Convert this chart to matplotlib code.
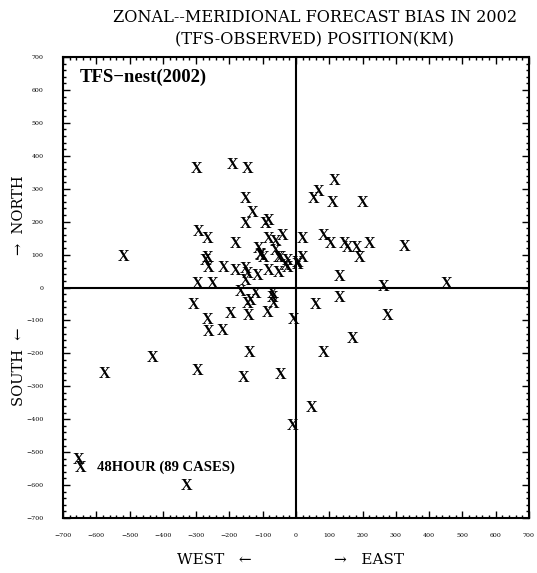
import numpy as np
import matplotlib.pyplot as plt
from matplotlib.ticker import MultipleLocator
from matplotlib.transforms import offset_copy

# zonal (x) and meridional (y) bias in km
x_bias = [-300, -192, -147, -153, -132, -153, -84, -93, -294, -267,
          -183, -84, -42, -63, -114, -108, -99, -63, 18, 81,
          -267, -273, -264, -219, -183, -153, -147, -117, -84, -54,
          -33, -27, 3, 18, -297, -252, -153, -168, -123, -72,
          -309, -198, -147, -138, -144, -87, -69, -72, -267, -264,
          -222, -9, 57, -141, -430, 81, -297, -159, -48, 45,
          117, 66, 51, 111, 201, 105, 147, 156, 183, 222,
          192, 325, 132, 264, 451, 132, 274, 171, -519, -576,
          -654, -648, -328, -12, -48, -108, -27, 3, -54]
y_bias = [362, 374, 362, 271, 230, 195, 204, 195, 172, 150,
          134, 150, 160, 141, 119, 98, 92, 114, 150, 160,
          92, 83, 62, 62, 53, 59, 43, 38, 53, 92,
          68, 62, 77, 92, 14, 14, 23, -10, -17, -17,
          -51, -76, -47, -38, -84, -74, -47, -29, -97, -132,
          -129, -97, -51, -195, -210, -195, -250, -272, -263, -363,
          326, 292, 271, 259, 259, 135, 135, 122, 122, 135,
          94, 126, 36, 5, 15, -29, -84, -154, 95, -260,
          -520, -545, -599, -419, 92, 101, 83, 71, 47]

plt.rcParams['font.family'] = ['DejaVu Serif']

fig = plt.figure(figsize=(5.37, 5.73), dpi=100)
ax = fig.add_axes([0.1173, 0.096, 0.8678, 0.8045])

# each case is drawn as an "X" character centred on its data point
mark_tr = offset_copy(ax.transData, fig=fig, y=-5, units='dots')
for xv, yv in zip(x_bias, y_bias):
    ax.text(xv, yv, 'X', ha='center', va='baseline', fontsize=11.5,
            fontweight='bold', family='Liberation Serif',
            transform=mark_tr, zorder=3)

ax.axhline(0, color='black', lw=1.5)
ax.axvline(0, color='black', lw=1.5)

ax.set_xlim(-700, 700)
ax.set_ylim(-700, 700)
ax.xaxis.set_major_locator(MultipleLocator(100))
ax.yaxis.set_major_locator(MultipleLocator(100))
ax.xaxis.set_minor_locator(MultipleLocator(20))
ax.yaxis.set_minor_locator(MultipleLocator(20))
ax.tick_params(which='both', direction='in', top=True, right=True,
               labelsize=4.5, width=1)
ax.tick_params(which='major', length=5)
ax.tick_params(axis='x', which='major', pad=11)
ax.tick_params(axis='y', which='major', pad=14)
ax.tick_params(which='minor', length=2)
for s in ax.spines.values():
    s.set_linewidth(1.5)

ax.text(0.037, 0.975, 'TFS\u2212nest(2002)', transform=ax.transAxes,
        ha='left', va='top', fontsize=13.5, fontweight='bold',
        family='Liberation Serif')
ax.text(0.073, 0.11, '48HOUR (89 CASES)', transform=ax.transAxes,
        ha='left', va='center', fontsize=10.5, fontweight='bold',
        family='Liberation Serif')

fig.text(0.586, 0.97, 'ZONAL--MERIDIONAL FORECAST BIAS IN 2002',
         ha='center', va='center', fontsize=11.6)
fig.text(0.586, 0.93, '(TFS-OBSERVED) POSITION(KM)',
         ha='center', va='center', fontsize=11.6)

fig.text(0.036, 0.625, '\u2192  NORTH', rotation=90, ha='center',
         va='center', fontsize=10.5)
fig.text(0.036, 0.36, 'SOUTH  \u2190', rotation=90, ha='center',
         va='center', fontsize=10.5)
fig.text(0.40, 0.022, 'WEST   \u2190', ha='center', va='center', fontsize=11)
fig.text(0.687, 0.022, '\u2192   EAST', ha='center', va='center', fontsize=11)

fig.savefig('out.png', dpi=100)
